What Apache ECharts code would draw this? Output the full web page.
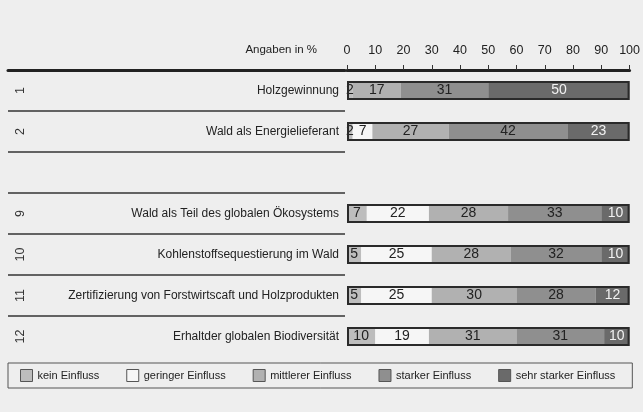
<!DOCTYPE html>
<html>
<head>
<meta charset="utf-8">
<script src="https://cdn.jsdelivr.net/npm/echarts@6/dist/echarts.min.js"></script>
<style>
  html, body { margin: 0; padding: 0; background: #eeeeee; }
  #chart { width: 643px; height: 412px; }
</style>
</head>
<body>
<div id="chart"></div>
<script>
// Zeilen (Nummer + Bezeichnung), leere Zeile = Lücke zwischen 2 und 9
const rowNumbers = ['1', '2', '', '9', '10', '11', '12']
const rowNames = [
  'Holzgewinnung',
  'Wald als Energielieferant',
  '',
  'Wald als Teil des globalen Ökosystems',
  'Kohlenstoffsequestierung im Wald',
  'Zertifizierung von Forstwirtscaft und Holzprodukten',
  'Erhaltder globalen Biodiversität'
]

// Angaben in %
const keinEinfluss = [2, 2, '-', 7, 5, 5, 10]
const geringerEinfluss = [0, 7, '-', 22, 25, 25, 19]
const mittlererEinfluss = [17, 27, '-', 28, 28, 30, 31]
const starkerEinfluss = [31, 42, '-', 33, 32, 28, 31]
const sehrStarkerEinfluss = [50, 23, '-', 10, 10, 12, 10]

const seriesNames = ['kein Einfluss', 'geringer Einfluss', 'mittlerer Einfluss', 'starker Einfluss', 'sehr starker Einfluss']
const seriesData = [keinEinfluss, geringerEinfluss, mittlererEinfluss, starkerEinfluss, sehrStarkerEinfluss]
const colors = ['#bdbdbd', '#f6f6f6', '#b1b1b1', '#8f8f8f', '#6a6a6a']
const labelColors = ['#222', '#222', '#222', '#222', '#f2f2f2']

const font = "'Liberation Sans', Arial, sans-serif"

// Rahmen um jeden Balken
const frame = keinEinfluss.map((v, i) => {
  if (v === '-') return '-'
  let sum = 0
  seriesData.forEach(arr => { sum += arr[i] })
  return Math.min(sum, 100)
})

const chart = echarts.init(document.getElementById('chart'), null, { renderer: 'canvas' })

const stacked = seriesNames.map((name, k) => ({
  name,
  type: 'bar',
  stack: 'total',
  xAxisIndex: 0,
  yAxisIndex: 0,
  barWidth: 19,
  data: seriesData[k],
  itemStyle: { color: colors[k] },
  label: {
    show: true,
    position: 'inside',
    color: labelColors[k],
    fontFamily: font,
    fontSize: 14,
    formatter: p => (p.value ? p.value : '')
  },
  emphasis: { disabled: true }
}))

chart.setOption({
  backgroundColor: '#eeeeee',
  animation: false,
  textStyle: { fontFamily: font },
  grid: [
    { left: 347, right: 7, top: 70, bottom: 55 },
    { left: 8, right: 298, top: 70, bottom: 55 }
  ],
  xAxis: [
    {
      gridIndex: 0,
      type: 'value',
      position: 'top',
      min: 0,
      max: 100,
      interval: 10,
      name: 'Angaben in %',
      nameLocation: 'start',
      nameGap: 30,
      nameTextStyle: {
        color: '#222', fontSize: 11.5, fontFamily: font,
        verticalAlign: 'bottom', padding: [0, 0, 14, 0]
      },
      axisLine: { show: true, lineStyle: { color: '#222', width: 3 } },
      axisTick: { show: true, length: 5, lineStyle: { color: '#333', width: 1 } },
      axisLabel: { color: '#222', fontSize: 12.5, fontFamily: font, margin: 13 },
      splitLine: { show: false }
    },
    {
      gridIndex: 1,
      type: 'value',
      position: 'top',
      min: 0,
      max: 1,
      axisLine: { show: true, lineStyle: { color: '#222', width: 3 } },
      axisTick: { show: false },
      axisLabel: { show: false },
      splitLine: { show: false }
    }
  ],
  yAxis: [
    {
      gridIndex: 0,
      type: 'category',
      inverse: true,
      data: rowNumbers,
      axisLine: { show: false },
      axisTick: { show: false },
      axisLabel: { show: false },
      splitLine: { show: false }
    },
    {
      gridIndex: 1,
      type: 'category',
      inverse: true,
      position: 'left',
      data: rowNumbers,
      axisLine: { show: false },
      axisTick: { show: false },
      axisLabel: { inside: true, rotate: 90, margin: 6, color: '#333', fontSize: 12.5, fontFamily: font },
      splitLine: {
        show: true,
        lineStyle: {
          color: ['transparent', '#333', '#333', '#333', '#333', '#333', '#333', 'transparent'],
          width: 1.5
        }
      }
    },
    {
      gridIndex: 1,
      type: 'category',
      inverse: true,
      position: 'right',
      data: rowNames,
      axisLine: { show: false },
      axisTick: { show: false },
      axisLabel: { inside: true, margin: 6, color: '#222', fontSize: 12, fontFamily: font },
      splitLine: { show: false }
    }
  ],
  legend: {
    data: seriesNames,
    left: 8,
    top: 363,
    padding: [6, 17, 6, 12],
    borderColor: '#555',
    borderWidth: 1,
    itemGap: 27,
    itemWidth: 12,
    itemHeight: 12,
    icon: 'rect',
    selectedMode: false,
    itemStyle: { borderColor: '#555', borderWidth: 1 },
    textStyle: { color: '#222', fontSize: 11, fontFamily: font }
  },
  series: stacked.concat([
    {
      name: 'Rahmen',
      type: 'bar',
      xAxisIndex: 0,
      yAxisIndex: 0,
      barWidth: 19,
      barGap: '-100%',
      z: 5,
      silent: true,
      data: frame,
      itemStyle: { color: 'transparent', borderColor: '#2a2a2a', borderWidth: 2 },
      label: { show: false },
      emphasis: { disabled: true }
    }
  ])
})
</script>
</body>
</html>
